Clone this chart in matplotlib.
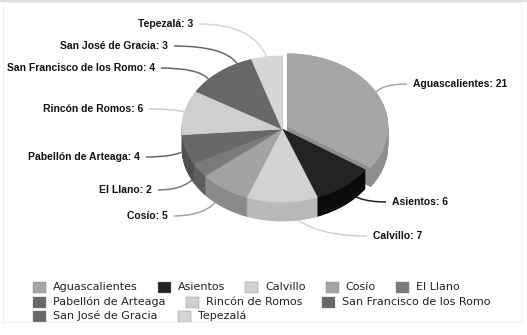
import numpy as np
import matplotlib
matplotlib.use("Agg")
import matplotlib.pyplot as plt
from matplotlib.patches import Rectangle, PathPatch
from matplotlib.path import Path
from matplotlib.transforms import Affine2D

# municipios y número de casos
municipios = ["Aguascalientes", "Asientos", "Calvillo", "Cosío", "El Llano",
              "Pabellón de Arteaga", "Rincón de Romos",
              "San Francisco de los Romo", "San José de Gracia", "Tepezalá"]
casos = [21, 6, 7, 5, 2, 4, 6, 4, 3, 3]

colores = ["#a6a6a6", "#232323", "#d2d2d2", "#a3a3a3", "#7a7a7a",
           "#686868", "#cfcfcf", "#676767", "#686868", "#d6d6d6"]
colores_lado = ["#8e8e8e", "#0a0a0a", "#b9b9b9", "#8a8a8a", "#5e5e5e",
                "#505050", "#b4b4b4", "#505050", "#505050", "#bcbcbc"]
separar = [0.065, 0, 0, 0, 0, 0, 0, 0, 0, 0]

W, H = 527, 335
CX, CY = 282, 129      # centro de la cara superior (px desde arriba)
RX, RY = 100, 73
GROSOR = 19

# posición de cada etiqueta: (x, y, alineación)
pos_etiquetas = [(413, 84, "left"), (392, 202, "left"), (373, 236, "left"),
                 (168, 216, "right"), (152, 190, "right"), (140, 157, "right"),
                 (143, 109, "right"), (155, 68, "right"), (168, 46, "right"),
                 (193, 24, "right")]

fig = plt.figure(figsize=(W / 100, H / 100), dpi=100)
ax = fig.add_axes([0, 0, 1, 1])


def pastel(cols, bajada):
    t = Affine2D().scale(RX, RY).translate(CX, H - CY - bajada) + ax.transData
    cuñas, _ = ax.pie(casos, colors=cols, startangle=90, counterclock=False,
                      explode=separar, radius=1, center=(0, 0),
                      wedgeprops=dict(linewidth=0.6, antialiased=True))
    for c, col in zip(cuñas, cols):
        c.set_edgecolor(col)
        c.set_transform(t)
    return cuñas


# paredes laterales, de abajo hacia arriba
for k in np.arange(GROSOR, 0, -0.5):
    pastel(colores_lado, k)
tapa = pastel(colores, 0)

ax.set_aspect("auto")
ax.set_xlim(0, W)
ax.set_ylim(0, H)
ax.axis("off")

# etiquetas con líneas guía
total = sum(casos)
inicio = 90.0
for i, (nombre, v) in enumerate(zip(municipios, casos)):
    ang = inicio - v / total * 360 / 2
    inicio -= v / total * 360
    a = np.deg2rad(ang)
    ex = CX + RX * (np.cos(a) + separar[i] * np.cos(a))
    ey = CY - RY * (np.sin(a) + separar[i] * np.sin(a))
    lx, ly, al = pos_etiquetas[i]
    if al == "right":
        sx = lx + 6
    else:
        sx = lx - 6
    cx_ctrl = ex + (sx - ex) * 0.2
    camino = Path([(sx, H - ly), (cx_ctrl, H - ly), (ex, H - ey)],
                  [Path.MOVETO, Path.CURVE3, Path.CURVE3])
    ax.add_patch(PathPatch(camino, facecolor="none", edgecolor=colores[i],
                           linewidth=1.1, zorder=0))
    ax.text(lx, H - ly, f"{nombre}: {v}", ha=al, va="center",
            fontsize=7.5, fontweight="bold", family="Liberation Sans",
            color="#111111")

# leyenda en flujo
fig.canvas.draw()
rend = fig.canvas.get_renderer()
x0, x, fila = 33, 33, 0
filas_y = [287, 302, 316]
for nombre, col in zip(municipios, colores):
    t = ax.text(0, 0, nombre, fontsize=8, family="DejaVu Sans", color="#222222",
                va="center")
    ancho = t.get_window_extent(rend).width
    if x + 20 + ancho > 500:
        fila += 1
        x = x0
    y = filas_y[fila]
    t.set_position((x + 20, H - y))
    ax.add_patch(Rectangle((x, H - y - 5.5), 13, 11, facecolor=col,
                           edgecolor="#888888", linewidth=0.3))
    x += 20 + ancho + 20

# marco tenue
ax.add_patch(Rectangle((0, H - 2), W, 2, facecolor="#dedede", edgecolor="none"))
ax.add_patch(Rectangle((3, H - 322), 518, 320, facecolor="none",
                       edgecolor="#f0f0f0", linewidth=0.8))

fig.savefig("out.png", dpi=100)
